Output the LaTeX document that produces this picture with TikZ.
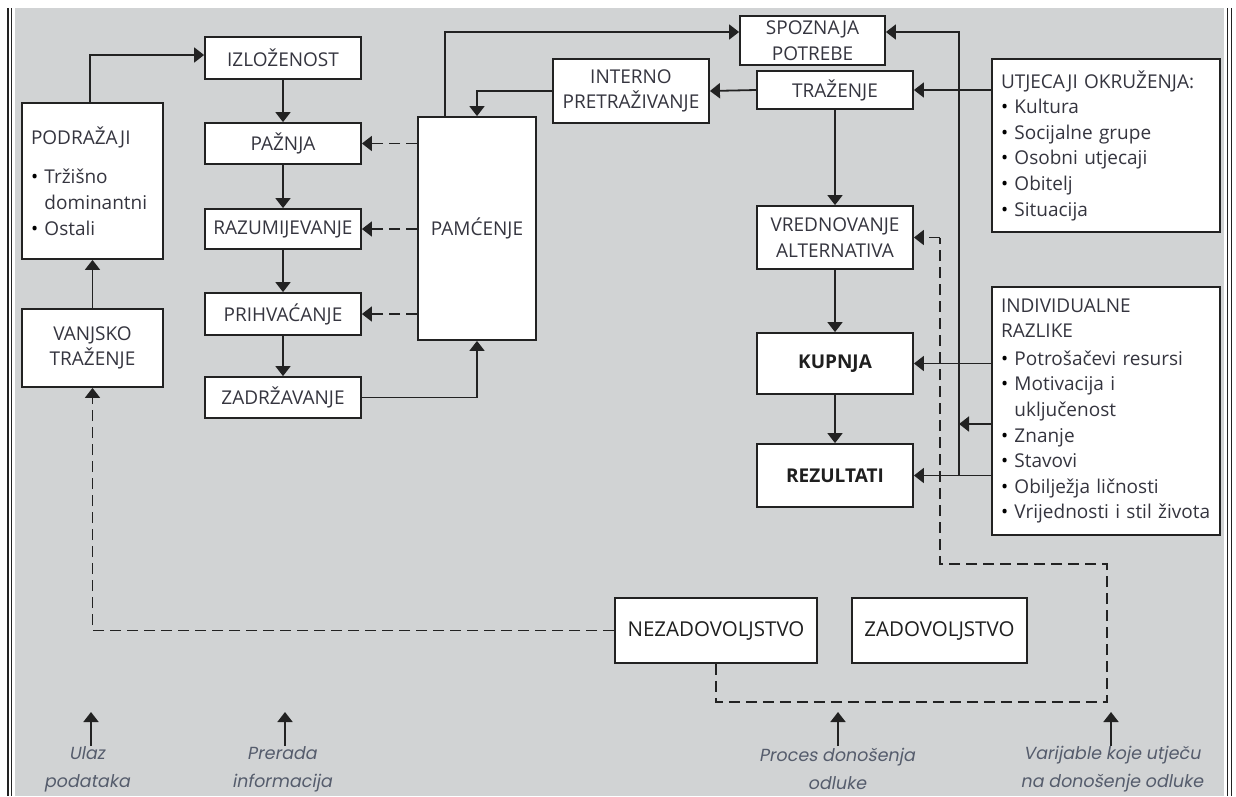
\documentclass[tikz,border=0pt]{standalone}
\usepackage{fontspec}
\setmainfont{Open Sans}
\newfontfamily\capfont{Poppins}[FakeSlant=0.18]
\usetikzlibrary{arrows.meta}
\definecolor{bgc}{HTML}{D1D3D4}
\definecolor{linec}{HTML}{222222}
\definecolor{txtc}{HTML}{35353F}
\definecolor{capc}{HTML}{555C6C}
\newcommand{\bul}{\textcolor{black}{\textbullet}\ }
\tikzset{
  box/.style={draw=linec, line width=1.8pt, fill=white, inner sep=0pt, text=txtc,
    font=\fontsize{19}{25.6}\selectfont, align=center},
  lbox/.style={box, inner xsep=9pt, align=left},
  bbox/.style={box, text=black!88, font=\fontsize{19}{25.6}\selectfont\bfseries},
  nbox/.style={box, text=black!88, font=\fontsize{20.5}{25.6}\selectfont},
  arr/.style={draw=linec, line width=1.8pt, -{Triangle[width=15pt,length=10pt]}},
  darr/.style={arr, dash pattern=on 11pt off 6pt},
  dline/.style={draw=linec, line width=1.8pt, dash pattern=on 11pt off 6pt},
  captxt/.style={text=capc, align=center, font=\capfont\fontsize{17.5}{28}\selectfont},
}
\begin{document}
\begin{tikzpicture}[x=1pt,y=-1pt]
\useasboundingbox (0,0) rectangle (1236,796);
\fill[white] (0,0) rectangle (1236,796);
\fill[bgc] (15,8) rectangle (1224,796);
\draw[linec, line width=1.1pt] (8,8) -- (8,796) (11.5,8) -- (11.5,796)
  (1227.5,8) -- (1227.5,796) (1231.5,8) -- (1231.5,796);

% information processing column
\node[box, minimum width=156pt, minimum height=42pt] (izl) at (283,58) {IZLOŽENOST};
\node[box, minimum width=156pt, minimum height=41pt] (paz) at (283,143.5) {PAŽNJA};
\node[box, minimum width=156pt, minimum height=40pt] (raz) at (283,229) {RAZUMIJEVANJE};
\node[box, minimum width=156pt, minimum height=42pt] (prih) at (283,314) {PRIHVAĆANJE};
\node[box, minimum width=156pt, minimum height=41pt] (zadr) at (283,397.5) {ZADRŽAVANJE};

% input column
\node[lbox, text width=123pt, minimum height=156pt] (podr) at (92.5,181)
  {PODRAŽAJI\\[14pt]\bul Tržišno\\\hphantom{\textbullet\ }dominantni\\\bul Ostali};
\node[box, minimum width=141pt, minimum height=78pt] (vanj) at (92.5,348) {VANJSKO\\TRAŽENJE};

% memory
\node[box, minimum width=118pt, minimum height=223pt] (pamc) at (477,228.5) {PAMĆENJE};

% decision process
\node[box, minimum width=145pt, minimum height=49pt] (spoz) at (812.5,40.5) {SPOZNAJA\\POTREBE};
\node[box, minimum width=156pt, minimum height=64pt] (intp) at (631,91) {INTERNO\\PRETRAŽIVANJE};
\node[box, minimum width=156pt, minimum height=38pt] (traz) at (835,90) {TRAŽENJE};
\node[box, minimum width=156pt, minimum height=63pt] (vred) at (835,237.5) {VREDNOVANJE\\ALTERNATIVA};
\node[bbox, minimum width=156pt, minimum height=61pt] (kup) at (835,363.5) {KUPNJA};
\node[bbox, minimum width=156pt, minimum height=63pt] (rez) at (835,475.5) {REZULTATI};
\node[nbox, minimum width=202pt, minimum height=65pt] (nez) at (716,630.5) {NEZADOVOLJSTVO};
\node[nbox, minimum width=175pt, minimum height=65pt] (zad) at (939.5,630.5) {ZADOVOLJSTVO};

% influencing variables
\node[lbox, text width=210pt, minimum height=173pt] (utj) at (1106,145.5)
  {UTJECAJI OKRUŽENJA:\\\bul Kultura\\\bul Socijalne grupe\\\bul Osobni utjecaji\\\bul Obitelj\\\bul Situacija};
\node[lbox, text width=210pt, minimum height=248pt] (ind) at (1106,411)
  {INDIVIDUALNE\\RAZLIKE\\[2pt]\bul Potrošačevi resursi\\\bul Motivacija i\\\hphantom{\textbullet\ }uključenost\\\bul Znanje\\\bul Stavovi\\\bul Obilježja ličnosti\\\bul Vrijednosti i stil života};

% captions
\node[captxt] (c1) at (87,769) {Ulaz\\podataka};
\node[captxt] (c2) at (282,769) {Prerada\\informacija};
\node[captxt] (c3) at (837,769) {Proces donošenja\\odluke};
\node[captxt] (c4) at (1112,769) {Varijable koje utječu\\na donošenje odluke};
\coordinate (a1) at (91,746);
\coordinate (a2) at (285,746);
\coordinate (a3) at (838,746);
\coordinate (a4) at (1111,746);
\coordinate (vj) at (959,475.5);
\coordinate (vm) at (959,424);

% connectors: information processing
\draw[arr] ([xshift=-2.5pt]podr.north) |- ([yshift=3pt]izl.west);
\draw[arr] (vanj.north) -- (podr.south);
\draw[arr] (izl.south) -- (paz.north);
\draw[arr] (paz.south) -- (raz.north);
\draw[arr] (raz.south) -- (prih.north);
\draw[arr] (prih.south) -- (zadr.north);
\draw[arr] (zadr.east) -| (pamc.south);
\draw[darr] (pamc.west |- paz.east) -- (paz.east);
\draw[darr] (pamc.west |- raz.east) -- (raz.east);
\draw[darr] (pamc.west |- prih.east) -- (prih.east);
\draw[arr] ([xshift=-32pt]pamc.north) |- ([yshift=8.5pt]spoz.west);
\draw[arr] (intp.west) -| (pamc.north);

% connectors: decision process
\draw[arr] (traz.west) -- (intp.east);
\draw[arr] (traz.south) -- (vred.north);
\draw[arr] (vred.south) -- (kup.north);
\draw[arr] (kup.south) -- (rez.north);
\draw[arr] (utj.west |- traz.east) -- (traz.east);
\draw[arr] (ind.west |- kup.east) -- (kup.east);
\draw[arr] (ind.west |- rez.east) -- (rez.east);
\draw[arr] (ind.west |- vm) -- (vm);
\draw[arr] (vj) |- ([yshift=8.5pt]spoz.east);

% dashed feedback
\draw[dline] (nez.south) |- (1107,702) -- (1107,564) -| (940,237.5);
\draw[darr] (940,237.5) -- (vred.east);
\draw[darr] (nez.west) -| (vanj.south);

% caption arrows
\draw[arr] (a1) -- ++(0,-34);
\draw[arr] (a2) -- ++(0,-34);
\draw[arr] (a3) -- ++(0,-34);
\draw[arr] (a4) -- ++(0,-34);
\end{tikzpicture}
\end{document}
